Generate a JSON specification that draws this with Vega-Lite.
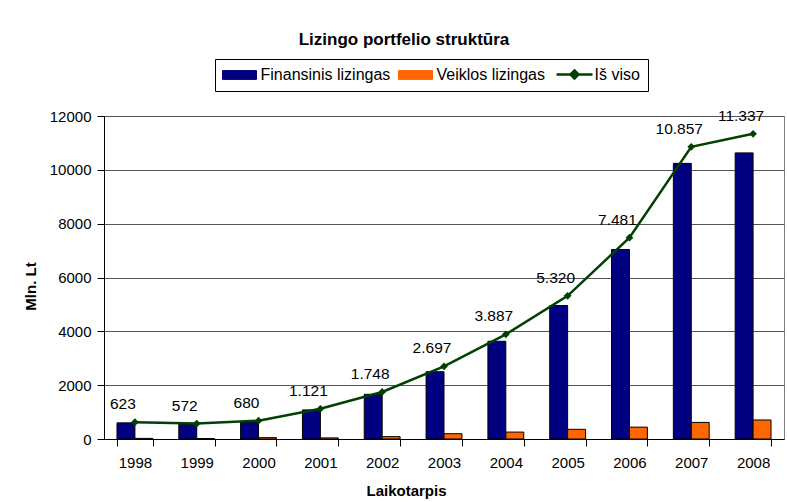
{
  "$schema": "https://vega.github.io/schema/vega-lite/v6.json",
  "width": 680,
  "height": 323,
  "autosize": {"type": "none"},
  "padding": {"left": 104, "top": 116, "right": 3, "bottom": 63},
  "background": "white",
  "title": {
    "text": "Lizingo portfelio struktūra",
    "font": "Liberation Sans",
    "fontSize": 17,
    "fontWeight": "bold",
    "color": "black",
    "frame": "group",
    "anchor": "middle",
    "dx": -40,
    "offset": 10
  },
  "datasets": {
    "parts": [
      {"year": "1998", "series": "Finansinis lizingas", "value": 600},
      {"year": "1998", "series": "Veiklos lizingas", "value": 23},
      {"year": "1999", "series": "Finansinis lizingas", "value": 555},
      {"year": "1999", "series": "Veiklos lizingas", "value": 17},
      {"year": "2000", "series": "Finansinis lizingas", "value": 630},
      {"year": "2000", "series": "Veiklos lizingas", "value": 50},
      {"year": "2001", "series": "Finansinis lizingas", "value": 1080},
      {"year": "2001", "series": "Veiklos lizingas", "value": 41},
      {"year": "2002", "series": "Finansinis lizingas", "value": 1660},
      {"year": "2002", "series": "Veiklos lizingas", "value": 88},
      {"year": "2003", "series": "Finansinis lizingas", "value": 2500},
      {"year": "2003", "series": "Veiklos lizingas", "value": 197},
      {"year": "2004", "series": "Finansinis lizingas", "value": 3630},
      {"year": "2004", "series": "Veiklos lizingas", "value": 257},
      {"year": "2005", "series": "Finansinis lizingas", "value": 4960},
      {"year": "2005", "series": "Veiklos lizingas", "value": 360},
      {"year": "2006", "series": "Finansinis lizingas", "value": 7040},
      {"year": "2006", "series": "Veiklos lizingas", "value": 441},
      {"year": "2007", "series": "Finansinis lizingas", "value": 10240},
      {"year": "2007", "series": "Veiklos lizingas", "value": 617},
      {"year": "2008", "series": "Finansinis lizingas", "value": 10630},
      {"year": "2008", "series": "Veiklos lizingas", "value": 707}
    ],
    "total": [
      {"year": "1998", "series": "Iš viso", "value": 623, "label": "623"},
      {"year": "1999", "series": "Iš viso", "value": 572, "label": "572"},
      {"year": "2000", "series": "Iš viso", "value": 680, "label": "680"},
      {"year": "2001", "series": "Iš viso", "value": 1121, "label": "1.121"},
      {"year": "2002", "series": "Iš viso", "value": 1748, "label": "1.748"},
      {"year": "2003", "series": "Iš viso", "value": 2697, "label": "2.697"},
      {"year": "2004", "series": "Iš viso", "value": 3887, "label": "3.887"},
      {"year": "2005", "series": "Iš viso", "value": 5320, "label": "5.320"},
      {"year": "2006", "series": "Iš viso", "value": 7481, "label": "7.481"},
      {"year": "2007", "series": "Iš viso", "value": 10857, "label": "10.857"},
      {"year": "2008", "series": "Iš viso", "value": 11337, "label": "11.337"}
    ]
  },
  "config": {
    "font": "Liberation Sans",
    "view": {"stroke": "#808080", "strokeWidth": 1},
    "axis": {
      "labelFont": "Liberation Sans",
      "labelFontSize": 15,
      "labelColor": "black",
      "titleFont": "Liberation Sans",
      "titleFontSize": 15,
      "titleFontWeight": "bold",
      "titleColor": "black",
      "domainColor": "black",
      "tickColor": "black",
      "tickSize": 7
    }
  },
  "layer": [
    {
      "data": {"name": "parts"},
      "mark": {"type": "bar", "stroke": "black", "strokeWidth": 1},
      "encoding": {
        "x": {
          "field": "year",
          "type": "ordinal",
          "scale": {"paddingInner": 0.42, "paddingOuter": 0.21},
          "axis": {
            "title": "Laikotarpis",
            "labelAngle": 0,
            "tickBand": "extent",
            "labelPadding": 9,
            "titleX": 302,
            "titleY": 51,
            "titleBaseline": "middle",
            "titleAlign": "center",
            "grid": false
          }
        },
        "xOffset": {"field": "series", "sort": ["Finansinis lizingas", "Veiklos lizingas"]},
        "y": {
          "field": "value",
          "type": "quantitative",
          "scale": {"domain": [0, 12000], "nice": false},
          "axis": {
            "title": "Mln. Lt",
            "values": [0, 2000, 4000, 6000, 8000, 10000, 12000],
            "format": "d",
            "labelPadding": 6,
            "gridColor": "#555555",
            "gridOpacity": 1,
            "titleX": -74,
            "titleY": 170,
            "titleBaseline": "middle",
            "titleAlign": "center"
          }
        },
        "color": {
          "field": "series",
          "type": "nominal",
          "scale": {
            "domain": ["Finansinis lizingas", "Veiklos lizingas", "Iš viso"],
            "range": ["#000080", "#FF6600", "#004000"]
          },
          "legend": {
            "orient": "none",
            "legendX": 111,
            "legendY": -57,
            "direction": "horizontal",
            "title": null,
            "strokeColor": "black",
            "fillColor": "white",
            "padding": 7.5,
            "labelFont": "Liberation Sans",
            "labelFontSize": 16,
            "labelColor": "black",
            "labelLimit": 400,
            "symbolSize": 256,
            "columnPadding": 6,
            "labelOffset": 22,
            "symbolOpacity": 1,
            "symbolType": {"expr": "datum.value === 'Iš viso' ? 'M-1,0H3.5M1.25,-0.5L1.75,0L1.25,0.5L0.75,0Z' : 'M-1,-0.55H3.25V0.55H-1Z'"},
            "symbolStrokeColor": {"expr": "datum.value === 'Iš viso' ? '#004000' : 'black'"},
            "symbolStrokeWidth": {"expr": "datum.value === 'Iš viso' ? 2.5 : 1"}
          }
        }
      }
    },
    {
      "data": {"name": "total"},
      "mark": {
        "type": "line",
        "strokeWidth": 2.5,
        "point": {"shape": "diamond", "size": 60, "filled": true, "opacity": 1}
      },
      "encoding": {
        "x": {"field": "year", "type": "ordinal"},
        "y": {"field": "value", "type": "quantitative"},
        "color": {"field": "series", "type": "nominal", "legend": null}
      }
    },
    {
      "data": {"name": "total"},
      "mark": {"type": "text", "dx": -12, "dy": -18, "fontSize": 15.5, "font": "Liberation Sans", "color": "black"},
      "encoding": {
        "x": {"field": "year", "type": "ordinal"},
        "y": {"field": "value", "type": "quantitative"},
        "text": {"field": "label"}
      }
    }
  ]
}
